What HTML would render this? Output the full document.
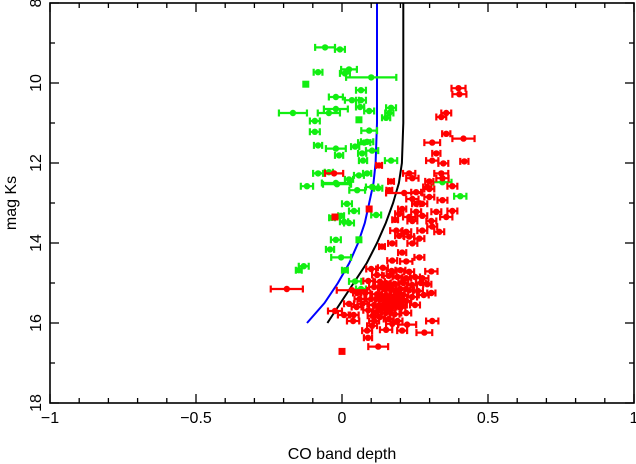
<!DOCTYPE html>
<html><head><meta charset="utf-8"><style>
html,body{margin:0;padding:0;background:#fff;}
svg{display:block;font-family:"Liberation Sans",sans-serif;}
</style></head><body>
<svg id="chart" width="636" height="464" viewBox="0 0 636 464" xmlns="http://www.w3.org/2000/svg">
<g id="curves"></g>
<g id="pts"></g>
<g id="axes"></g>
<text x="342" y="459" font-size="16" text-anchor="middle">CO band depth</text>
<text transform="translate(16,203) rotate(-90)" font-size="16" text-anchor="middle">mag Ks</text>
</svg>
<script>
// green: [x, mag, xerr]
const greenData=[[-0.058,9.11,0.034],[-0.007,9.16,0.017],[-0.082,9.73,0.015],[0.024,9.66,0.027],[0.010,9.76,0.017],[0.100,9.86,0.086],[-0.124,10.03,0],[0.065,10.18,0.017],[-0.021,10.35,0.024],[0.034,10.43,0.024],[0.065,10.43,0.017],[-0.168,10.75,0.048],[-0.045,10.75,0.038],[-0.021,10.65,0.041],[0.062,10.60,0.014],[0.093,10.70,0.017],[0.168,10.62,0.017],[0.162,10.75,0.014],[0.151,10.87,0.014],[0.058,10.92,0],[-0.093,10.95,0.017],[-0.093,11.22,0.017],[0.093,11.19,0.027],[-0.082,11.56,0.014],[-0.021,11.64,0.034],[-0.010,11.81,0.014],[0.045,11.59,0.014],[0.076,11.49,0.021],[0.086,11.47,0.021],[0.069,11.76,0.014],[0.103,11.69,0.021],[0.072,11.94,0.014],[0.168,11.94,0.021],[-0.082,12.26,0.017],[-0.045,12.23,0.014],[-0.021,12.50,0.048],[-0.120,12.58,0.021],[0.058,12.31,0.017],[0.086,12.26,0.014],[0.024,12.41,0.014],[0.052,12.68,0.027],[0.103,12.60,0.021],[0.124,12.63,0.014],[0.344,12.48,0.031],[0.405,12.83,0.021],[-0.017,12.53,0.048],[0.017,13.02,0.017],[0.041,13.20,0.017],[0.117,13.30,0.017],[-0.003,13.32,0.010],[-0.034,13.37,0.010],[0.024,13.50,0.017],[0.007,13.47,0.014],[-0.021,13.92,0.017],[0.058,13.92,0],[-0.041,14.16,0.014],[-0.003,14.36,0.034],[-0.131,14.58,0.017],[-0.148,14.68,0.010],[0.010,14.68,0.010],[0.045,14.96,0.021],[0.065,15.15,0.017]];
const redData=[[0.399,10.13,0.024],[0.402,10.28,0.024],[0.357,10.75,0.017],[0.340,10.85,0.017],[0.357,11.27,0.014],[0.416,11.39,0.038],[0.309,11.49,0.027],[0.323,11.76,0.014],[0.309,11.94,0.021],[0.347,12.01,0.017],[0.419,11.96,0.014],[0.127,12.06,0.010],[0.230,12.26,0.021],[0.241,12.38,0.021],[0.340,12.26,0.024],[0.344,12.38,0.021],[-0.027,12.26,0.031],[0.168,12.46,0.010],[0.299,12.46,0.014],[0.378,12.58,0.017],[0.292,12.60,0.014],[0.213,12.75,0.062],[0.254,12.73,0.017],[0.162,12.68,0.010],[0.299,12.65,0.017],[0.241,12.90,0.021],[0.299,12.85,0.017],[0.344,12.93,0.017],[0.378,13.20,0.017],[0.275,13.02,0.017],[0.254,13.02,0.014],[0.206,13.15,0.014],[0.196,13.27,0.014],[0.230,13.35,0.021],[0.254,13.22,0.017],[0.275,13.32,0.017],[0.323,13.22,0.017],[0.357,13.35,0.021],[0.306,13.45,0.017],[0.241,13.45,0.017],[0.093,13.15,0],[-0.024,13.35,0],[0.182,13.42,0.010],[0.186,13.69,0.021],[0.220,13.72,0.017],[0.275,13.69,0.017],[0.309,13.59,0.017],[0.333,13.72,0.017],[0.230,13.84,0.017],[0.265,13.89,0.017],[0.196,13.82,0.014],[0.241,14.01,0.017],[0.172,14.01,0.014],[0.137,14.09,0.010],[0.206,14.24,0.014],[0.265,14.36,0.017],[0.172,14.44,0.017],[0.220,14.46,0.021],[0.306,14.71,0.021],[0.275,14.88,0.021],[0.292,15.03,0.014],[0.306,15.25,0.014],[-0.189,15.15,0.055],[0.034,15.18,0.052],[0.052,15.25,0.014],[-0.024,15.70,0.024],[0.007,15.80,0.021],[0.038,15.95,0.021],[0.024,15.52,0.017],[0.309,15.95,0.021],[0.223,16.04,0.031],[0.172,16.02,0.021],[0.103,16.07,0.017],[0.086,16.19,0.017],[0.151,16.17,0.021],[0.206,16.19,0.017],[0.282,16.24,0.027],[0.089,16.37,0.014],[0.124,16.59,0.034],[0.000,16.71,0],
[0.10,14.65,0.017],[0.14,14.62,0.017],[0.17,14.70,0.017],[0.20,14.68,0.017],[0.23,14.72,0.017],[0.12,14.80,0.017],[0.16,14.82,0.017],[0.19,14.85,0.017],[0.22,14.88,0.017],[0.25,14.85,0.017],[0.09,14.95,0.017],[0.13,14.97,0.017],[0.15,15.0,0.017],[0.18,15.02,0.017],[0.21,15.0,0.017],[0.24,15.05,0.017],[0.27,15.0,0.017],[0.11,15.1,0.017],[0.14,15.12,0.017],[0.17,15.15,0.017],[0.20,15.15,0.017],[0.23,15.18,0.017],[0.26,15.2,0.017],[0.08,15.25,0.017],[0.12,15.28,0.017],[0.15,15.3,0.017],[0.18,15.32,0.017],[0.21,15.3,0.017],[0.24,15.35,0.017],[0.10,15.4,0.017],[0.13,15.42,0.017],[0.16,15.45,0.017],[0.19,15.48,0.017],[0.22,15.45,0.017],[0.07,15.52,0.017],[0.11,15.55,0.017],[0.14,15.58,0.017],[0.17,15.6,0.017],[0.20,15.62,0.017],[0.25,15.55,0.017],[0.09,15.68,0.017],[0.12,15.72,0.017],[0.15,15.75,0.017],[0.18,15.78,0.017],[0.22,15.75,0.017],[0.06,15.4,0.017],[0.05,15.6,0.017],[0.28,15.3,0.017],[0.13,15.85,0.017],[0.16,15.9,0.017],[0.11,15.95,0.017],[0.19,15.95,0.017],[0.04,15.8,0.017],
[0.155,15.07,0.017],[0.185,15.22,0.017],[0.135,15.35,0.017],[0.165,15.38,0.017],[0.195,15.4,0.017],[0.145,15.52,0.017],[0.175,15.5,0.017],[0.125,15.62,0.017],[0.205,15.55,0.017],[0.165,15.68,0.017],[0.105,15.82,0.017],[0.145,15.15,0.017]];
const curveMags=[8,11,12,12.5,13,13.5,14,14.5,15,15.5,16];
const blueCurveX=[0.12,0.12,0.115,0.108,0.093,0.078,0.055,0.025,-0.014,-0.06,-0.12];
const blackCurveX=[0.21,0.21,0.205,0.195,0.175,0.15,0.12,0.085,0.04,-0.005,-0.05];
const xTicks=[-1,-0.5,0,0.5,1];
const xTickLabels=["\u22121","\u22120.5","0","0.5","1"];
const yTicks=[8,10,12,14,16,18];
const yTickLabels=["8","10","12","14","16","18"];

const NS="http://www.w3.org/2000/svg";
const X0=50,X1=634,Y0=3,Y1=403;
function sx(v){return X0+(v+1)/2*(X1-X0);}
function sy(m){return Y0+(m-8)/10*(Y1-Y0);}
function mk(t,a,p){const e=document.createElementNS(NS,t);for(const k in a)e.setAttribute(k,a[k]);p.appendChild(e);return e;}

const cg=document.getElementById('curves');
[[blueCurveX,'#0000ff','blue-model-curve'],[blackCurveX,'#000','black-model-curve']].forEach(([xs,c,n])=>{
  const d=xs.map((v,i)=>(i?'L':'M')+sx(v).toFixed(1)+' '+sy(curveMags[i]).toFixed(1)).join(' ');
  const p=mk('path',{d:d,fill:'none',stroke:c,'stroke-width':2},cg);
  
  
});

const pg=document.getElementById('pts');
function drawSet(data,color,name){
  const g=mk('g',{},pg);
  
  
  data.forEach(([x,m,e])=>{
    const cx=sx(x),cy=sy(m);
    if(e>0){
      const x1=sx(x-e),x2=sx(x+e);
      mk('path',{d:`M${x1} ${cy}H${x2}M${x1} ${cy-3.5}V${cy+3.5}M${x2} ${cy-3.5}V${cy+3.5}`,stroke:color,'stroke-width':2.2,fill:'none'},g);
      const c=mk('circle',{cx:cx,cy:cy,r:3.2,fill:color},g);
      
      
    } else {
      const r=mk('rect',{x:cx-3.5,y:cy-3.5,width:7,height:7,fill:color},g);
      
      
    }
  });
}
drawSet(greenData,'#11ee11','green-series');
drawSet(redData,'#ff0000','red-series');

const ag=document.getElementById('axes');
mk('rect',{x:X0,y:Y0,width:X1-X0,height:Y1-Y0,fill:'none',stroke:'#000','stroke-width':1.6},ag);
for(let i=-10;i<=10;i++){
  const v=i/10,x=sx(v),L=(i%5===0)?9:5;
  mk('line',{x1:x,x2:x,y1:Y1,y2:Y1-L,stroke:'#000','stroke-width':1.3},ag);
  mk('line',{x1:x,x2:x,y1:Y0,y2:Y0+L,stroke:'#000','stroke-width':1.3},ag);
}
for(let m=8;m<=18;m++){
  const y=sy(m),L=(m%2===0)?9:5;
  mk('line',{x1:X0,x2:X0+L,y1:y,y2:y,stroke:'#000','stroke-width':1.3},ag);
  mk('line',{x1:X1,x2:X1-L,y1:y,y2:y,stroke:'#000','stroke-width':1.3},ag);
}
xTicks.forEach((v,i)=>{
  const t=mk('text',{x:sx(v),y:423,'font-size':16,'text-anchor':'middle'},ag);
  t.textContent=xTickLabels[i];
  
  
});
yTicks.forEach((v,i)=>{
  const t=mk('text',{transform:`translate(41,${sy(v)}) rotate(-90)`,'font-size':16,'text-anchor':'middle'},ag);
  t.textContent=yTickLabels[i];
  
  
});
</script>
</body></html>
